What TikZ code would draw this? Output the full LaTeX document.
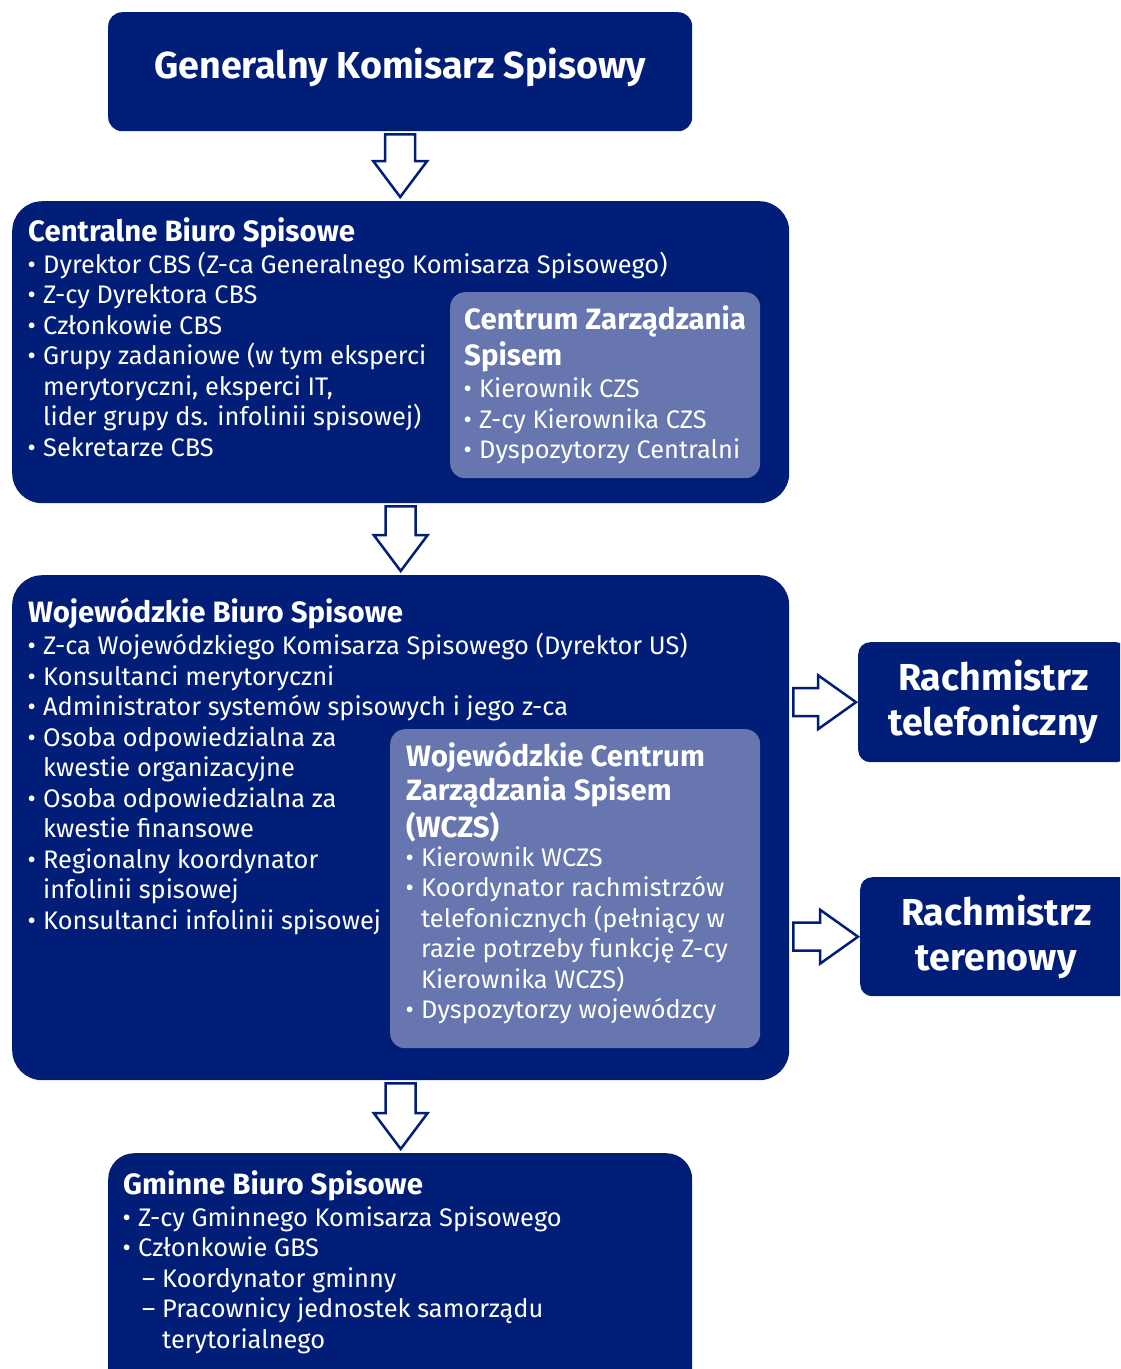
\documentclass[tikz,border=0pt]{standalone}
\usepackage{fontspec}
\setmainfont{Fira Sans}
\usetikzlibrary{calc}
\definecolor{navy}{RGB}{0,30,119}
\definecolor{lightnavy}{RGB}{103,118,174}
\newcommand\bul{\hspace*{-0.5pt}\makebox[15.5pt][l]{•}}
\newcommand\cnt{\hspace*{15pt}}
\newcommand\bodyfont{\fontsize{25.4}{30.5}\selectfont}
\newcommand\headfont{\bfseries\fontsize{29.4}{35.5}\selectfont}
\newcommand\bigfont{\bfseries\fontsize{37.6}{45}\selectfont}
\newcommand\dnarr[2]{\draw[blockarr] let \p1=(#1), \p2=(#2) in
  (\x1-15pt,\y1-3pt) -- (\x1+15pt,\y1-3pt) -- (\x1+15pt,\y2+40pt) -- (\x1+27pt,\y2+40pt)
  -- (\x1,\y2+4pt) -- (\x1-27pt,\y2+40pt) -- (\x1-15pt,\y2+40pt) -- cycle;}
\newcommand\rtarr[2]{\draw[blockarr] let \p1=(#1), \p2=(#2) in
  (\x1+4pt,\y2+14pt) -- (\x2-40pt,\y2+14pt) -- (\x2-40pt,\y2+27pt) -- (\x2-2pt,\y2)
  -- (\x2-40pt,\y2-27pt) -- (\x2-40pt,\y2-14pt) -- (\x1+4pt,\y2-14pt) -- cycle;}
\begin{document}
\begin{tikzpicture}[x=1pt,y=1pt,
  darkbox/.style={fill=navy, draw=none, rounded corners=#1, inner sep=0pt, anchor=north west},
  darkbox/.default=30pt,
  lightbox/.style={fill=lightnavy, draw=none, rounded corners=15pt, inner sep=0pt, anchor=north west},
  txt/.style={text=white, font=\bodyfont, align=left, inner sep=0pt, anchor=north west},
  bigtxt/.style={text=white, font=\bigfont, align=center},
  blockarr/.style={draw=navy, fill=white, line width=2.5pt, line join=miter}]
\useasboundingbox (0,0) rectangle (1120,-1369);
\clip (0,0) rectangle (1120,-1369);
% boxes
\node[darkbox=14pt, minimum width=584, minimum height=119] (gks) at (108,-12) {};
\node[bigtxt] (gkst) at ($(gks.center)+(0,4)$) {Generalny Komisarz Spisowy};
\node[darkbox, minimum width=777, minimum height=302] (cbs) at (12,-201) {};
\node[lightbox, minimum width=310, minimum height=186] (czs) at (450,-292) {};
\node[darkbox, minimum width=777, minimum height=505] (wbs) at (12,-575) {};
\node[lightbox, minimum width=370, minimum height=319] (wczs) at (390,-729) {};
\node[darkbox=26pt, minimum width=584, minimum height=260] (gbs) at (108,-1153) {};
\node[darkbox=12pt, minimum width=270, minimum height=120, bigtxt, anchor=north west] (rt1) at (858,-642) {Rachmistrz\\telefoniczny};
\node[darkbox=12pt, minimum width=272, minimum height=119, bigtxt, anchor=north west] (rt2) at (860,-877) {Rachmistrz\\terenowy};
% texts
\node[txt] (cbst) at (28,-217) {{\headfont Centralne Biuro Spisowe}\\[1.5pt]
\bul Dyrektor CBS (Z-ca Generalnego Komisarza Spisowego)\\
\bul Z-cy Dyrektora CBS\\
\bul Członkowie CBS\\
\bul Grupy zadaniowe (w tym eksperci\\
\cnt merytoryczni, eksperci IT,\\
\cnt lider grupy ds. infolinii spisowej)\\
\bul Sekretarze CBS};
\node[txt] (czst) at (464,-305) {{\headfont Centrum Zarządzania}\\[4pt]
{\headfont Spisem}\\[1.5pt]
\bul Kierownik CZS\\
\bul Z-cy Kierownika CZS\\
\bul Dyspozytorzy Centralni};
\node[txt] (wbst) at (28,-598) {{\headfont Wojewódzkie Biuro Spisowe}\\[1.5pt]
\bul Z-ca Wojewódzkiego Komisarza Spisowego (Dyrektor US)\\
\bul Konsultanci merytoryczni\\
\bul Administrator systemów spisowych i jego z-ca\\
\bul Osoba odpowiedzialna za\\
\cnt kwestie organizacyjne\\
\bul Osoba odpowiedzialna za\\
\cnt kwestie finansowe\\
\bul Regionalny koordynator\\
\cnt infolinii spisowej\\
\bul Konsultanci infolinii spisowej};
\node[txt] (wczst) at (406,-742) {{\headfont Wojewódzkie Centrum}\\[3pt]
{\headfont Zarządzania Spisem}\\[3pt]
{\headfont (WCZS)}\\[-1.5pt]
\bul Kierownik WCZS\\
\bul Koordynator rachmistrzów\\
\cnt telefonicznych (pełniący w\\
\cnt razie potrzeby funkcję Z-cy\\
\cnt Kierownika WCZS)\\
\bul Dyspozytorzy wojewódzcy};
\node[txt] (gbst) at (123,-1170) {{\headfont Gminne Biuro Spisowe}\\[1.5pt]
\bul Z-cy Gminnego Komisarza Spisowego\\
\bul Członkowie GBS\\
\hspace*{19pt}\makebox[20pt][l]{–}Koordynator gminny\\
\hspace*{19pt}\makebox[20pt][l]{–}Pracownicy jednostek samorządu\\
\hspace*{39pt}terytorialnego};
% arrows
\dnarr{gks.south}{cbs.north}
\dnarr{cbs.south}{wbs.north}
\dnarr{wbs.south}{gbs.north}
\rtarr{wbs.east}{rt1.west}
\rtarr{wbs.east}{rt2.west}
\end{tikzpicture}
\end{document}
